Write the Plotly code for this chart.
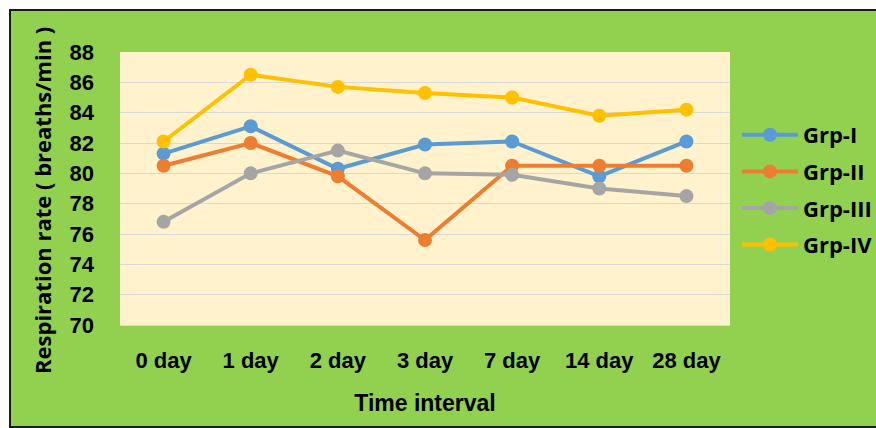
import plotly.graph_objects as go

categories = ["0 day", "1 day", "2 day", "3 day", "7 day", "14 day", "28 day"]
grp1 = [81.3, 83.1, 80.3, 81.9, 82.1, 79.8, 82.1]
grp2 = [80.5, 82.0, 79.8, 75.6, 80.5, 80.5, 80.5]
grp3 = [76.8, 80.0, 81.5, 80.0, 79.9, 79.0, 78.5]
grp4 = [82.1, 86.5, 85.7, 85.3, 85.0, 83.8, 84.2]
series_names = ["Grp-I", "Grp-II", "Grp-III", "Grp-IV"]
colors = ["#5B9BD5", "#ED7D31", "#A5A5A5", "#FFC000"]
y_ticks = [70, 72, 74, 76, 78, 80, 82, 84, 86, 88]

fig = go.Figure()
for name, vals, c in zip(series_names, [grp1, grp2, grp3, grp4], colors):
    fig.add_trace(go.Scatter(
        x=categories, y=vals, name=name, legendgroup=name, mode="lines+markers",
        line=dict(color=c, width=4), marker=dict(color=c, size=14),
    ))

W, H = 876, 428
L, T = 120, 52
R = W - 730
B = H - 325
pw, ph = W - L - R, H - T - B

def px(sx):
    return (sx - L) / pw

def py(sy):
    return (H - B - sy) / ph

# white strips outside the green frame, and the black frame
fig.add_shape(type="rect", xref="paper", yref="paper",
              x0=px(-10), x1=px(900), y0=py(9), y1=py(-10),
              fillcolor="white", line=dict(width=0), layer="below")
fig.add_shape(type="rect", xref="paper", yref="paper",
              x0=px(-10), x1=px(9), y0=py(450), y1=py(-10),
              fillcolor="white", line=dict(width=0), layer="below")
fig.add_shape(type="rect", xref="paper", yref="paper",
              x0=px(10), x1=px(890), y0=py(427), y1=py(10),
              fillcolor="rgba(0,0,0,0)", line=dict(color="#1a1a1a", width=2), layer="above")

narrow = "Liberation Sans Narrow, Arial Narrow, sans-serif"

fig.add_annotation(text="Respiration rate ( breaths/min )", textangle=-90,
                   xref="paper", yref="paper", x=px(42), y=py(201),
                   xanchor="center", yanchor="middle", showarrow=False,
                   font=dict(family="Open Sans", size=22, color="black", weight="bold"))

fig.update_layout(
    width=W, height=H,
    margin=dict(l=L, r=R, t=T, b=B, autoexpand=False),
    paper_bgcolor="#92D050",
    plot_bgcolor="#FFF2CC",
    showlegend=True,
    legend=dict(x=px(737), y=py(114), xanchor="left", yanchor="top",
                bgcolor="rgba(0,0,0,0)", tracegroupgap=5, itemwidth=56,
                font=dict(family="Open Sans", size=22, color="black", weight="bold")),
    xaxis=dict(
        range=[-0.5, 6.5], showgrid=False, zeroline=False,
        showline=True, linecolor="#D9D9D9", linewidth=1,
        ticks="", ticklabelstandoff=16,
        tickfont=dict(family=narrow, size=22, color="black", weight="bold"),
        title=dict(text="Time interval", standoff=22,
                   font=dict(family=narrow, size=23, color="black", weight="bold")),
    ),
    yaxis=dict(
        range=[70, 88], tickvals=y_ticks, showgrid=True, gridcolor="#D9D9D9", gridwidth=1,
        zeroline=False, ticks="", ticklabelstandoff=25,
        tickfont=dict(family=narrow, size=22, color="black", weight="bold"),
    ),
)

fig.write_html("out.html", config={"displayModeBar": False},
               post_script="document.body.style.margin='0';document.body.style.overflow='hidden';")
